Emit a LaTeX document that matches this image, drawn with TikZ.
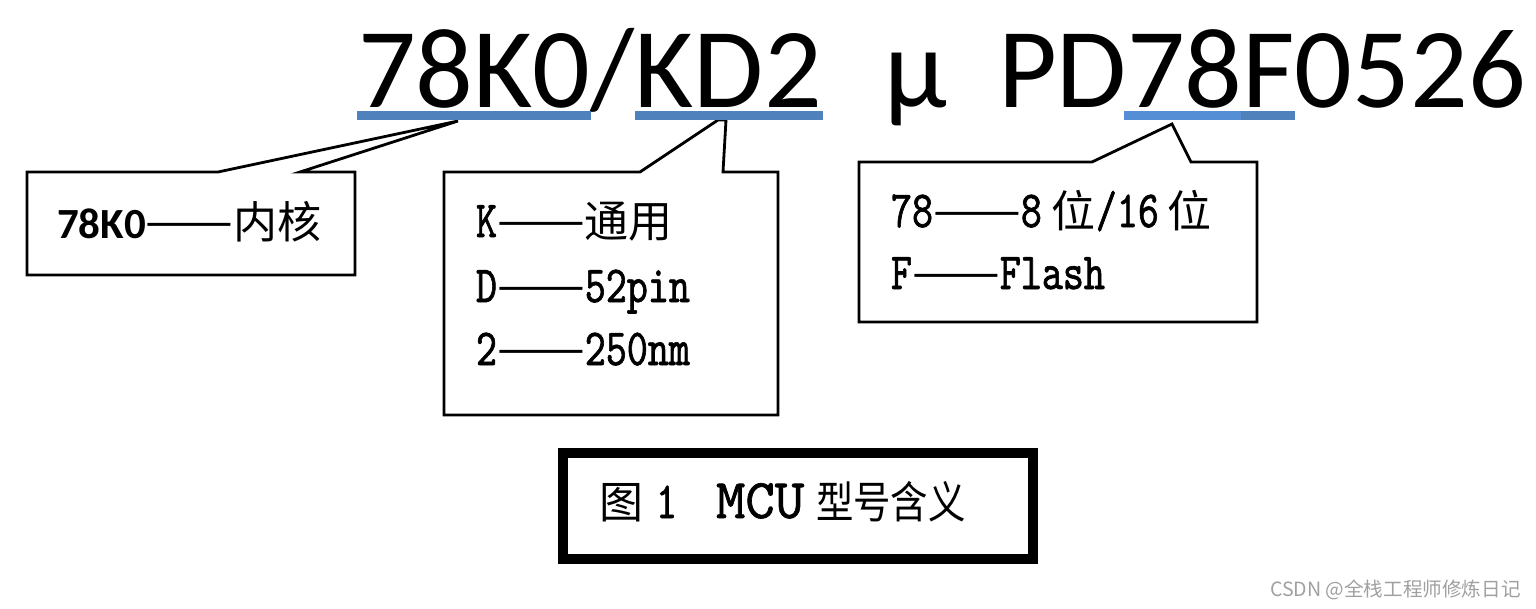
\documentclass[tikz,border=0pt]{standalone}
\usepackage{fontspec}
\newfontfamily\titlefont{Carlito}
\newfontfamily\cjkfont{Noto Sans CJK SC}
\newfontfamily\cjknarrow[FakeStretch=0.85]{Noto Sans CJK SC}
\newfontfamily\dashfont[FakeStretch=1.08]{Noto Sans CJK SC}
\newfontfamily\latfont[Extension=.otf,FakeStretch=0.77,FakeBold=1.2]{lmmono10-regular}
\newfontfamily\latwide[Extension=.otf,FakeBold=1.2]{lmmono10-regular}
\newcommand\lat[1]{{\latfont\fontsize{52}{56}\selectfont #1}}
\newcommand\dsh{{\dashfont\fontsize{48.5}{52}\selectfont ——}}
\newcommand\cj[1]{{\cjkfont\fontsize{44}{48}\selectfont #1}}
\definecolor{ulblue}{HTML}{4F81BD}
\definecolor{ulblueL}{HTML}{558ED5}
\definecolor{wmgray}{HTML}{A0A0A0}
\tikzset{
  callout/.style={draw=black, line width=2.8pt, line join=miter, fill=white},
  txt/.style={anchor=base west, inner sep=0pt, outer sep=0pt},
  ttl/.style={txt, font=\titlefont\fontsize{114}{118}\selectfont},
}
\begin{document}
\begin{tikzpicture}[x=1pt,y=-1pt]
\useasboundingbox (0,0) rectangle (1536,608);
% title
\node[ttl] (t1) at (358,107) {78K0/KD2};
\node[ttl] (t2) at (884,107) {μ};
\node[ttl] (t3) at (998,107) {PD78F0526};
% apex coordinates
\coordinate (a1) at (458,121);
\coordinate (a2l) at (718,120);
\coordinate (a2r) at (726,120);
\coordinate (a3) at (1172,124);
% callouts
\draw[callout] (27,172) -- (218,172) -- (a1) -- (300,172) -- (355,172) -- (355,275) -- (27,275) -- cycle;
\draw[callout] (444,172) -- (640,172) -- (a2l) -- (a2r) -- (723,172) -- (778,172) -- (778,415) -- (444,415) -- cycle;
\draw[callout] (859,162) -- (1092,162) -- (a3) -- (1191,162) -- (1257,162) -- (1257,322) -- (859,322) -- cycle;
% underlines
\fill[ulblue] (357,111) rectangle (591,120);
\fill[ulblue] (635,111) rectangle (823,120);
\fill[ulblueL] (1124,111) rectangle (1241,120);
\fill[ulblue] (1241,111) rectangle (1295,120);
% callout 1 text
\node[txt] (c1) at (57,238) {{\titlefont\bfseries\fontsize{43}{46}\selectfont 78K0}\dsh\cj{内核}};
% callout 2 text
\node[txt] (c2a) at (476,237) {\lat{K}\dsh\cj{通用}};
\node[txt] (c2b) at (476,302) {\lat{D}\dsh\lat{52pin}};
\node[txt] (c2c) at (476,365) {\lat{2}\dsh\lat{250nm}};
% callout 3 text
\node[txt] (c3a) at (891,227) {\lat{78}\dsh\lat{8}\kern10pt\cj{位}\lat{/16}\kern9pt\cj{位}};
\node[txt] (c3b) at (891,289) {\lat{F}\dsh\lat{Flash}};
% caption
\draw[line width=10pt] (563,453) rectangle (1033,559);
\node[txt] (f1) at (599,518) {\cj{图}};
\node[txt] (f2) at (656,518) {\lat{1}};
\node[txt, font=\latwide\fontsize{56}{60}\selectfont] (f3) at (716,518) {MCU};
\node[txt, font=\cjknarrow\fontsize{44}{48}\selectfont] (f4) at (816,518) {型号含义};
% watermark
\node[txt, text=wmgray, font=\cjkfont\fontsize{19.6}{22}\selectfont] (wm) at (1270,596) {CSDN @全栈工程师修炼日记};
\end{tikzpicture}
\end{document}
